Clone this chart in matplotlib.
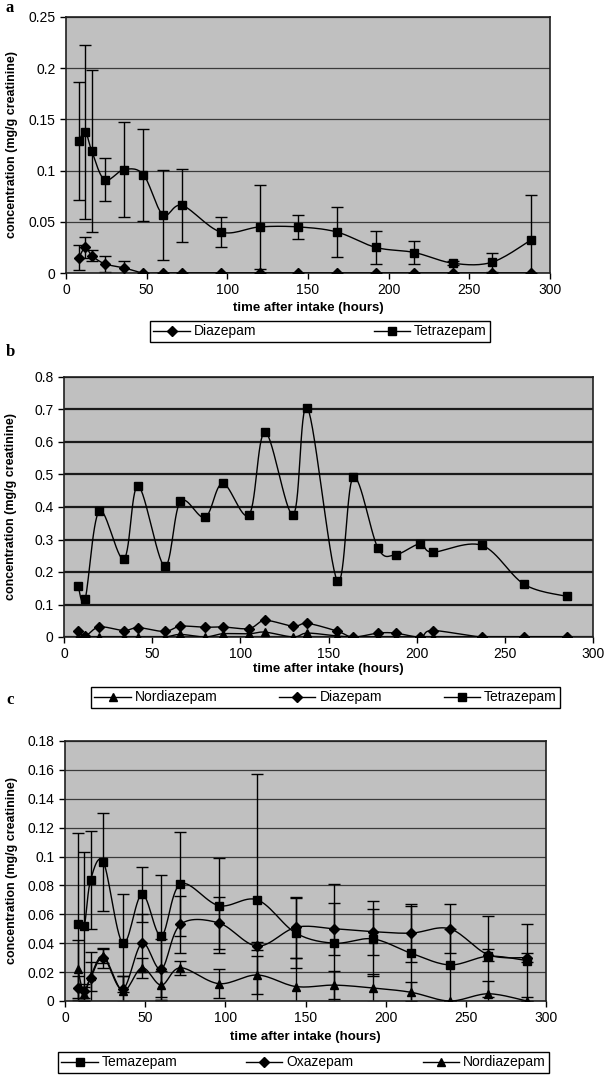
import numpy as np
import matplotlib
matplotlib.use("Agg")
import matplotlib.pyplot as plt
from matplotlib.ticker import MultipleLocator, FuncFormatter
from matplotlib.lines import Line2D

plt.rcParams["font.family"] = ["Liberation Sans", "DejaVu Sans"]

# ── Data ───────────────────────────────────────────────────────────────────────
# panel a
t_a = [8, 12, 16, 24, 36, 48, 60, 72, 96, 120, 144, 168, 192, 216, 240, 264, 288]
tetra_a = [0.129, 0.138, 0.119, 0.091, 0.101, 0.096, 0.057, 0.066, 0.040, 0.045,
           0.045, 0.040, 0.025, 0.020, 0.0095, 0.0105, 0.032]
tetra_a_err = [0.058, 0.085, 0.079, 0.021, 0.046, 0.045, 0.044, 0.036, 0.0145, 0.041,
               0.012, 0.024, 0.016, 0.011, 0.002, 0.0095, 0.044]
diaz_a = [0.015, 0.025, 0.017, 0.009, 0.005, 0, 0, 0, 0, 0, 0, 0, 0, 0, 0, 0, 0]
diaz_a_err = [0.012, 0.010, 0.005, 0.008, 0.007, 0, 0, 0, 0, 0, 0, 0, 0, 0, 0, 0, 0]

# panel b
t_b = [8, 12, 20, 34, 42, 57, 66, 80, 90, 105, 114, 130, 138, 155, 164, 178, 188,
       202, 209, 237, 261, 285]
tetra_b = [0.157, 0.117, 0.388, 0.240, 0.465, 0.218, 0.417, 0.368, 0.473, 0.376,
           0.631, 0.376, 0.706, 0.173, 0.492, 0.274, 0.253, 0.287, 0.261, 0.282,
           0.162, 0.125]
diaz_b = [0.020, 0.003, 0.031, 0.020, 0.029, 0.017, 0.033, 0.030, 0.031, 0.026,
          0.051, 0.033, 0.042, 0.018, 0.0, 0.012, 0.012, 0.0, 0.020, 0.0, 0.0, 0.0]
nordiaz_b = [0, 0, 0, 0, 0, 0, 0.008, 0, 0.010, 0.010, 0.015, 0, 0.012, 0.003, 0,
             0, 0, 0, 0, 0, 0, 0]

# panel c
t_c = [8, 12, 16, 24, 36, 48, 60, 72, 96, 120, 144, 168, 192, 216, 240, 264, 288]
tema_c = [0.053, 0.052, 0.084, 0.096, 0.040, 0.074, 0.045, 0.081, 0.066, 0.070,
          0.047, 0.040, 0.043, 0.033, 0.025, 0.031, 0.028]
tema_c_err = [0.063, 0.051, 0.034, 0.034, 0.034, 0.019, 0.042, 0.036, 0.033, 0.087,
              0.024, 0.041, 0.026, 0.033, 0.025, 0.028, 0.025]
oxa_c = [0.009, 0.007, 0.016, 0.030, 0.008, 0.040, 0.022, 0.053, 0.054, 0.038,
         0.051, 0.050, 0.048, 0.047, 0.050, 0.032, 0.030]
oxa_c_err = [0.008, 0.005, 0.018, 0.007, 0.009, 0.020, 0.021, 0.020, 0.018, 0.003,
             0.021, 0.018, 0.016, 0.020, 0.017, 0.004, 0.003]
nordiaz_c = [0.022, 0.005, 0.017, 0.031, 0.007, 0.023, 0.011, 0.023, 0.012, 0.018,
             0.010, 0.011, 0.009, 0.006, 0.0, 0.005, 0.0]
nordiaz_c_err = [0.020, 0.005, 0.010, 0.005, 0.010, 0.007, 0.010, 0.005, 0.010, 0.013,
                 0.020, 0.0095, 0.010, 0.007, 0.0, 0.009, 0.0]

XLABEL = "time after intake (hours)"
YLABEL = "concentration (mg/g creatinine)"
GREY = "#c0c0c0"
SQ, DI, TR = 6.2, 5.0, 6.4   # marker sizes


def smooth(x, y, sx, sy, n=16):
    """Bezier curve through the points, like a spreadsheet 'smoothed line'."""
    P = np.column_stack([np.asarray(x, float) * sx, np.asarray(y, float) * sy])
    out = [P[0]]
    tt = np.linspace(0, 1, n)[1:, None]
    for i in range(len(P) - 1):
        p0 = P[i - 1] if i > 0 else P[i]
        p1, p2 = P[i], P[i + 1]
        p3 = P[i + 2] if i + 2 < len(P) else P[i + 1]
        c1 = p1 + (p2 - p0) / 6
        c2 = p2 - (p3 - p1) / 6
        seg = ((1 - tt) ** 3 * p1 + 3 * (1 - tt) ** 2 * tt * c1
               + 3 * (1 - tt) * tt ** 2 * c2 + tt ** 3 * p2)
        out.extend(seg)
    out = np.array(out)
    return out[:, 0] / sx, out[:, 1] / sy


def series(ax, x, y, marker, ms, ymax, wpx, hpx, err=None):
    xs, ys = smooth(x, y, wpx / 300, hpx / ymax)
    ax.plot(xs, ys, color="black", lw=1.0, zorder=3)
    if err is not None:
        ax.errorbar(x, y, yerr=err, fmt="none", ecolor="black", elinewidth=1.0,
                    capsize=4, capthick=1.0, zorder=2)
    ax.plot(x, y, linestyle="none", marker=marker, ms=ms, color="black", zorder=4)


def style(ax, ymax, ystep, grid_lw, grid_col):
    ax.set_facecolor(GREY)
    ax.set_xlim(0, 300)
    ax.set_ylim(0, ymax)
    ax.xaxis.set_major_locator(MultipleLocator(50))
    ax.yaxis.set_major_locator(MultipleLocator(ystep))
    ax.yaxis.set_major_formatter(FuncFormatter(lambda v, p: f"{v:g}"))
    ax.grid(axis="y", color=grid_col, lw=grid_lw, zorder=1)
    ax.set_axisbelow(True)
    ax.tick_params(direction="out", length=4, width=1, labelsize=10, colors="black")
    for s in ax.spines.values():
        s.set_color("#202020")
        s.set_linewidth(1.2)
    ax.set_xlabel(XLABEL, fontsize=9.5, fontweight="bold")
    ax.set_ylabel(YLABEL, fontsize=9, fontweight="bold")


def legend(ax, entries, x0, x1, ytop, fig):
    handles = [Line2D([0], [0], color="black", lw=1.0, marker=m, ms=s, label=l)
               for l, m, s in entries]
    W, H = 605, 1075
    leg = ax.legend(handles=handles, loc="upper left", ncol=len(entries),
                    mode="expand", bbox_to_anchor=(x0 / W, 1 - ytop / H,
                                                   (x1 - x0) / W, 0.001),
                    bbox_transform=fig.transFigure, frameon=True, fancybox=False,
                    edgecolor="black", framealpha=1, fontsize=10, handlelength=2.6,
                    borderpad=0.25, handletextpad=0.3, borderaxespad=0)
    leg.get_frame().set_linewidth(1.0)


fig = plt.figure(figsize=(6.05, 10.75), dpi=100)
W, H = 605, 1075


def add_axes(x0, x1, y0, y1):
    return fig.add_axes([x0 / W, 1 - y1 / H, (x1 - x0) / W, (y1 - y0) / H])


# ── Panel a ────────────────────────────────────────────────────────────────────
ax_a = add_axes(66, 550, 17, 273)
style(ax_a, 0.25, 0.05, 0.9, "#3a3a3a")
series(ax_a, t_a, diaz_a, "D", DI, 0.25, 484, 256, diaz_a_err)
series(ax_a, t_a, tetra_a, "s", SQ, 0.25, 484, 256, tetra_a_err)
ax_a.xaxis.set_label_coords(0.5, -0.115)
ax_a.yaxis.set_label_coords(-0.1, 0.5)
legend(ax_a, [("Diazepam", "D", DI), ("Tetrazepam", "s", SQ)], 150, 490, 322, fig)

# ── Panel b ────────────────────────────────────────────────────────────────────
ax_b = add_axes(64, 593, 377, 637)
style(ax_b, 0.8, 0.1, 1.6, "#1a1a1a")
series(ax_b, t_b, nordiaz_b, "^", TR, 0.8, 529, 260)
series(ax_b, t_b, diaz_b, "D", DI, 0.8, 529, 260)
series(ax_b, t_b, tetra_b, "s", SQ, 0.8, 529, 260)
ax_b.xaxis.set_label_coords(0.5, -0.1)
ax_b.yaxis.set_label_coords(-0.088, 0.5)
legend(ax_b, [("Nordiazepam", "^", TR), ("Diazepam", "D", DI),
              ("Tetrazepam", "s", SQ)], 91, 560, 688, fig)

# ── Panel c ────────────────────────────────────────────────────────────────────
ax_c = add_axes(65, 546, 741, 1001)
style(ax_c, 0.18, 0.02, 0.9, "#3a3a3a")
series(ax_c, t_c, nordiaz_c, "^", TR, 0.18, 481, 260, nordiaz_c_err)
series(ax_c, t_c, oxa_c, "D", DI, 0.18, 481, 260, oxa_c_err)
series(ax_c, t_c, tema_c, "s", SQ, 0.18, 481, 260, tema_c_err)
ax_c.xaxis.set_label_coords(0.5, -0.115)
ax_c.yaxis.set_label_coords(-0.098, 0.5)
legend(ax_c, [("Temazepam", "s", SQ), ("Oxazepam", "D", DI),
              ("Nordiazepam", "^", TR)], 58, 549, 1053, fig)

# panel letters
for y, letter in [(8, "a"), (352, "b"), (700, "c")]:
    fig.text(6 / W, 1 - y / H, letter, fontsize=12, fontweight="bold",
             family="Liberation Serif", va="center", ha="left")

fig.savefig("out.png", dpi=100)
